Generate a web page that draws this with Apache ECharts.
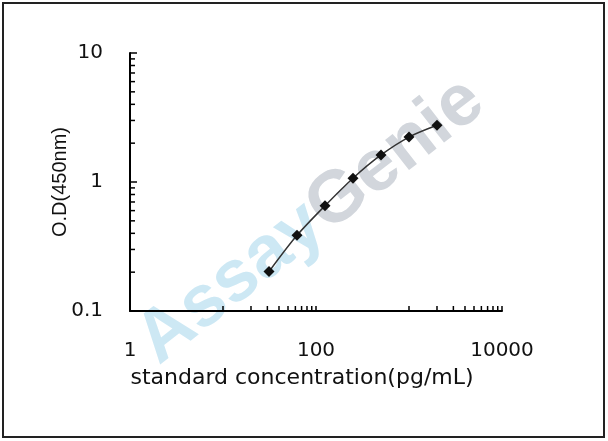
<!DOCTYPE html>
<html><head><meta charset="utf-8">
<script src="https://cdn.jsdelivr.net/npm/echarts@6/dist/echarts.min.js"></script>
<style>html,body{margin:0;padding:0;background:#fff}#c{width:608px;height:441px}</style>
</head><body><div id="c"></div>
<script>
// ---- data ----
const concentrations = [31.25, 62.5, 125, 250, 500, 1000, 2000];
const odValues = [0.202, 0.386, 0.655, 1.07, 1.62, 2.23, 2.75];
const xTickLabels = [1, 100, 10000];
const yTickLabels = [0.1, 1, 10];
const xMinorTicks = [10, 20, 30, 40, 50, 60, 70, 80, 90, 1000, 2000, 3000, 4000, 5000, 6000, 7000, 8000, 9000];
const yMinorTicks = [0.2, 0.3, 0.4, 0.5, 0.6, 0.7, 0.8, 0.9, 2, 3, 4, 5, 6, 7, 8, 9];
const xTitle = 'standard concentration(pg/mL)';
const yTitle = 'O.D(450nm)';

const xMin = xTickLabels[0], xMax = xTickLabels[xTickLabels.length - 1];
const yMin = yTickLabels[0], yMax = yTickLabels[yTickLabels.length - 1];

function fmt(v) { return String(Math.round(v * 1000) / 1000); }

const chart = echarts.init(document.getElementById('c'), null, { renderer: 'canvas' });
chart.setOption({
  animation: false,
  backgroundColor: '#fff',
  grid: { left: 130, right: 106, top: 53, bottom: 130, containLabel: false },
  xAxis: {
    type: 'log', logBase: 100, min: xMin, max: xMax, splitNumber: 2,
    axisLine: { show: true, lineStyle: { color: '#000', width: 2 } },
    axisTick: { show: true, inside: true, length: 5, lineStyle: { color: '#000', width: 1.5 } },
    splitLine: { show: false },
    axisLabel: { margin: 30, color: '#111', fontSize: 20, fontFamily: 'DejaVu Sans', formatter: fmt },
    name: xTitle, nameLocation: 'middle', nameGap: 56, nameMoveOverlap: false,
    nameTextStyle: { color: '#111', fontSize: 22, fontFamily: 'DejaVu Sans', padding: [0, 28, 0, 0] }
  },
  yAxis: {
    type: 'log', logBase: 10, min: yMin, max: yMax, splitNumber: 2,
    axisLine: { show: true, lineStyle: { color: '#000', width: 2 } },
    axisTick: { show: true, inside: true, length: 7, lineStyle: { color: '#000', width: 1.5 } },
    splitLine: { show: false },
    axisLabel: { margin: 27, color: '#111', fontSize: 20, fontFamily: 'DejaVu Sans', formatter: fmt },
    name: yTitle, nameLocation: 'middle', nameGap: 60, nameRotate: 90, nameMoveOverlap: false,
    nameTextStyle: { color: '#111', fontSize: 20, fontFamily: 'Liberation Sans' }
  },
  graphic: [
    { type: 'rect', shape: { x: 3, y: 3, width: 601, height: 434 }, style: { fill: 'none', stroke: '#222', lineWidth: 2 }, z: 0 },
    { type: 'text', x: 311, y: 221, rotation: 38 * Math.PI / 180, z: 0, silent: true,
      style: {
        text: '{a|Assay}{g|Genie}', align: 'center', verticalAlign: 'middle',
        rich: {
          a: { fontSize: 73, fontWeight: 'bold', fontFamily: 'Liberation Sans', fill: '#cde8f4' },
          g: { fontSize: 73, fontWeight: 'bold', fontFamily: 'Liberation Sans', fill: '#d2d6dc' }
        }
      } }
  ],
  series: [
    {
      type: 'custom', silent: true, z: 3,
      data: xMinorTicks.map(v => [v, yMin]),
      renderItem: (params, api) => {
        const p = api.coord([api.value(0), api.value(1)]);
        return { type: 'line', shape: { x1: p[0], y1: p[1], x2: p[0], y2: p[1] - 5 }, style: { stroke: '#000', lineWidth: 1.5 } };
      }
    },
    {
      type: 'custom', silent: true, z: 3,
      data: yMinorTicks.map(v => [xMin, v]),
      renderItem: (params, api) => {
        const p = api.coord([api.value(0), api.value(1)]);
        return { type: 'line', shape: { x1: p[0], y1: p[1], x2: p[0] + 5, y2: p[1] }, style: { stroke: '#000', lineWidth: 1.5 } };
      }
    },
    {
      type: 'line', z: 5,
      data: concentrations.map((c, i) => [c, odValues[i]]),
      smooth: 0.3,
      symbol: 'diamond', symbolSize: 11,
      lineStyle: { color: '#333', width: 1.5 },
      itemStyle: { color: '#111' }
    }
  ]
});
</script></body></html>
